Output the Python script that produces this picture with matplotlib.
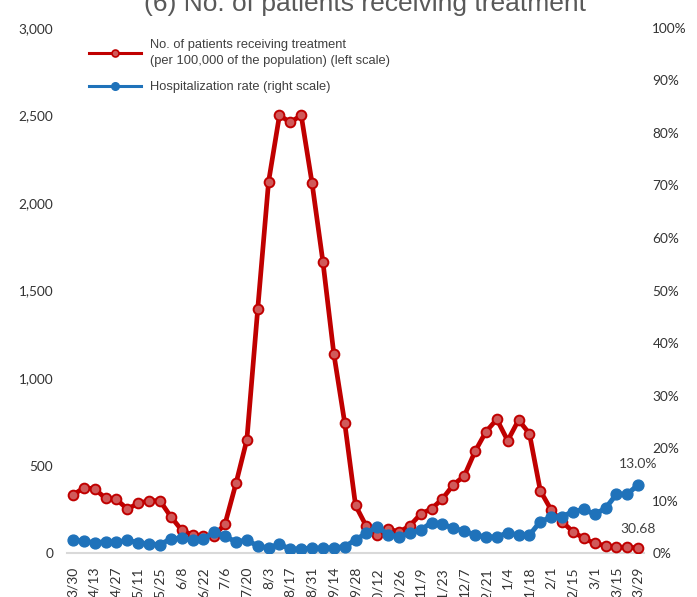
import matplotlib
matplotlib.use("Agg")
import matplotlib.pyplot as plt
from matplotlib.lines import Line2D
import numpy as np

# ---------------- data ----------------
dates = ["3/30", "4/6", "4/13", "4/20", "4/27", "5/4", "5/11", "5/18", "5/25", "6/1",
         "6/8", "6/15", "6/22", "6/29", "7/6", "7/13", "7/20", "7/27", "8/3", "8/10",
         "8/17", "8/24", "8/31", "9/7", "9/14", "9/21", "9/28", "10/5", "10/12", "10/19",
         "10/26", "11/2", "11/9", "11/16", "11/23", "11/30", "12/7", "12/14", "12/21", "12/28",
         "1/4", "1/11", "1/18", "1/25", "2/1", "2/8", "2/15", "2/22", "3/1", "3/8",
         "3/15", "3/22", "3/29"]

patients = [331, 373, 367, 312, 307, 251, 284, 299, 299, 208,
            131, 103, 99, 97, 168, 398, 647, 1394, 2122, 2501,
            2461, 2501, 2113, 1663, 1139, 745, 272, 152, 103, 140,
            119, 156, 223, 253, 310, 390, 440, 581, 693, 764,
            642, 760, 682, 356, 246, 179, 122, 84, 55, 42,
            34, 32, 30.68]

hosp_rate = [2.5, 2.2, 2.0, 2.1, 2.1, 2.4, 2.0, 1.7, 1.6, 2.7,
             2.8, 2.5, 2.7, 4.0, 3.2, 2.1, 2.5, 1.3, 1.0, 1.7,
             0.7, 0.8, 0.9, 0.9, 1.0, 1.2, 2.5, 3.8, 5.0, 3.5,
             3.1, 3.8, 4.4, 5.8, 5.5, 4.7, 4.2, 3.4, 3.1, 3.0,
             3.9, 3.4, 3.4, 6.0, 6.8, 6.9, 7.9, 8.3, 7.4, 8.5,
             11.2, 11.2, 13.0]

left_ticks = [0, 500, 1000, 1500, 2000, 2500, 3000]
right_ticks = [0, 10, 20, 30, 40, 50, 60, 70, 80, 90, 100]

title = "(6) No. of patients receiving treatment"
label_patients = "No. of patients receiving treatment\n(per 100,000 of the population) (left scale)"
label_hosp = "Hospitalization rate (right scale)"

# ---------------- style ----------------
RED = "#C00000"
RED_FACE = "#D05A5A"
BLUE = "#1F72BA"
TXT = "#404040"
TICKFONT = ["Lato", "DejaVu Sans"]
LEGFONT = ["Liberation Sans", "DejaVu Sans"]

fig = plt.figure(figsize=(6.97, 5.97), dpi=100)
ax = fig.add_axes([0.0961, 0.0737, 0.828, 0.8794])
ax2 = ax.twinx()

x = np.arange(len(dates))

ax.plot(x, patients, color=RED, lw=3.4, marker="o", ms=7,
        mfc=RED_FACE, mec=RED, mew=1.4, zorder=3, solid_joinstyle="round")
ax2.plot(x, hosp_rate, color=BLUE, lw=3.6, marker="o", ms=7.8,
         mfc=BLUE, mec=BLUE, zorder=3, solid_joinstyle="round")

ax.set_xlim(-0.55, len(dates) - 0.45)
ax.set_ylim(0, 3000)
ax2.set_ylim(0, 100)

ax.set_yticks(left_ticks)
ax.set_yticklabels([f"{v:,}" for v in left_ticks])
ax2.set_yticks(right_ticks)
ax2.set_yticklabels([f"{v}%" for v in right_ticks])

ax.set_xticks(x[::2])
ax.set_xticklabels(dates[::2], rotation=90, va="top", ha="center")

for a in (ax, ax2):
    for s in a.spines.values():
        s.set_visible(False)
    a.tick_params(length=0)
ax.spines["bottom"].set_visible(True)
ax.spines["bottom"].set_color("#D9D9D9")
ax.spines["bottom"].set_linewidth(1.5)

ax.tick_params(axis="y", pad=10, labelsize=9.8, labelcolor="#333333")
ax.tick_params(axis="x", pad=10, labelsize=10, labelcolor="#333333")
ax2.tick_params(axis="y", pad=6, labelsize=9.8, labelcolor="#333333")
for lab in ax.get_yticklabels() + ax.get_xticklabels() + ax2.get_yticklabels():
    lab.set_family(TICKFONT)

# end-point labels
ax2.annotate(f"{hosp_rate[-1]:.1f}%", (x[-1], hosp_rate[-1]), xytext=(0, 10.5),
             textcoords="offset points", ha="center", va="bottom",
             fontsize=10, color=TXT, family=TICKFONT)
ax.annotate(f"{patients[-1]:.2f}", (x[-1], patients[-1]), xytext=(0, 9),
            textcoords="offset points", ha="center", va="bottom",
            fontsize=10, color=TXT, family=TICKFONT)

# legend
handles = [Line2D([], [], color=RED, lw=2.2, marker="o", ms=5, mfc=RED_FACE, mec=RED, mew=1.2),
           Line2D([], [], color=BLUE, lw=2.2, marker="o", ms=5.5, mfc=BLUE, mec=BLUE)]
leg = ax.legend(handles, [label_patients, label_hosp], loc="upper left",
                bbox_to_anchor=(0.018, 1.001), frameon=False, handlelength=4.0,
                handletextpad=0.75, labelspacing=1.1, prop={"family": LEGFONT, "size": 9.3})
for t in leg.get_texts():
    t.set_color(TXT)
    t.set_linespacing(1.45)

fig.text(0.523, 1 - 11 / 597, title, ha="center", va="baseline",
         fontsize=19, color="#595959", family=LEGFONT)

fig.savefig("out.png", dpi=100)
